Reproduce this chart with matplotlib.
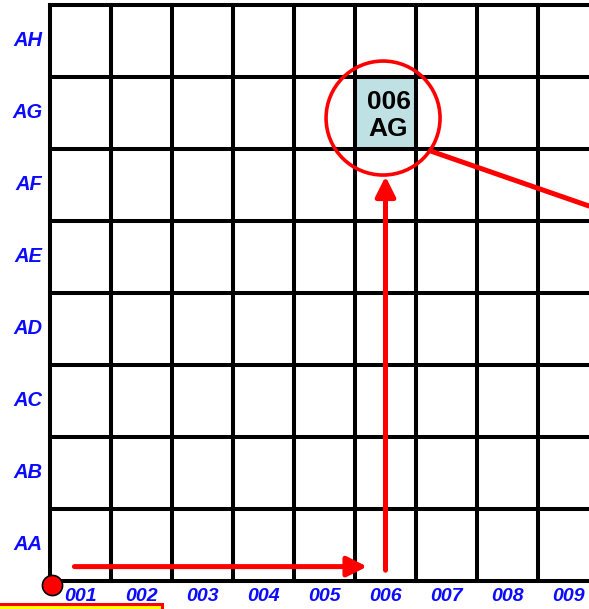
import matplotlib
matplotlib.use("Agg")
import matplotlib.pyplot as plt
from matplotlib.patches import Rectangle, Ellipse, FancyArrowPatch

# ---- data ----
col_labels = ["001", "002", "003", "004", "005", "006", "007", "008", "009"]
row_labels = ["AA", "AB", "AC", "AD", "AE", "AF", "AG", "AH"]
highlight_col = "006"
highlight_row = "AG"

# ---- layout (pixels of the 589x609 canvas) ----
W, H = 589, 609
left_px, col_w = 50, 61.0
bottom_px, row_h = 581, 72.0

fig = plt.figure(figsize=(W / 100, H / 100), dpi=100)
ax = fig.add_axes([0, 0, 1, 1])
ax.set_xlim(-left_px / col_w, (W - left_px) / col_w)
ax.set_ylim(-(H - bottom_px) / row_h, bottom_px / row_h)
ax.axis("off")

ncol, nrow = len(col_labels) + 1, len(row_labels)   # grid continues past the right edge
ci = col_labels.index(highlight_col)
ri = row_labels.index(highlight_row)

# highlighted cell
ax.add_patch(Rectangle((ci, ri), 1, 1, facecolor="#bfe1e4", edgecolor="none", zorder=1))
ax.text(ci + 0.55, ri + 0.47, f"{highlight_col}\n{highlight_row}", ha="center", va="center",
        fontsize=19, fontweight="bold", family="Liberation Sans", linespacing=1.15, zorder=5)

# grid
lw = 2.9
for x in range(ncol + 1):
    ax.plot([x, x], [0, nrow], color="black", lw=lw, solid_capstyle="projecting", zorder=3)
for y in range(nrow + 1):
    ax.plot([0, ncol], [y, y], color="black", lw=lw, solid_capstyle="projecting", zorder=3)

# labels
blue = "#0b0bff"
for i, lab in enumerate(col_labels):
    ax.text(i + 0.5, -0.22, lab, ha="center", va="center", fontsize=14, color=blue,
            fontweight="bold", fontstyle="italic", family="Liberation Sans", zorder=5)
for j, lab in enumerate(row_labels):
    ax.text(-0.13, j + 0.5, lab, ha="right", va="center", fontsize=14.5, color=blue,
            fontweight="bold", fontstyle="italic", family="Liberation Sans", zorder=5)

red = "#ff0000"
# origin dot
ax.plot([0.04], [-0.05], marker="o", markersize=14.5, markerfacecolor=red,
        markeredgecolor="black", markeredgewidth=1.2, zorder=6, clip_on=False)

# horizontal arrow along the bottom row to the highlighted column
ax.add_patch(FancyArrowPatch((0.4, 0.2), (ci + 0.2, 0.2),
                             arrowstyle="-|>,head_length=12,head_width=6", mutation_scale=1,
                             color=red, lw=3.6, shrinkA=0, shrinkB=0, zorder=6))
# vertical arrow up the highlighted column
ax.add_patch(FancyArrowPatch((ci + 0.5, 0.15), (ci + 0.5, ri - 0.38),
                             arrowstyle="-|>,head_length=12,head_width=6", mutation_scale=1,
                             color=red, lw=3.6, shrinkA=0, shrinkB=0, zorder=6))
# circle around the highlighted cell
ax.add_patch(Ellipse((ci + 0.46, ri + 0.43), 114 / col_w, 114 / row_h, facecolor="none",
                     edgecolor=red, lw=2.6, zorder=6))
# leader line to the right
ax.plot([ci + 1.28, ci + 4.34], [ri - 0.04, ri - 0.94], color=red, lw=3.6, zorder=6)

# box at the bottom left (cut off)
ax.add_patch(Rectangle((-55 / col_w, -(604 - bottom_px) / row_h), 217 / col_w - 50 / col_w, -0.5,
                       facecolor="#ffff00", edgecolor=red, lw=2.2, zorder=6, clip_on=True))

fig.savefig("out.png", dpi=100)
